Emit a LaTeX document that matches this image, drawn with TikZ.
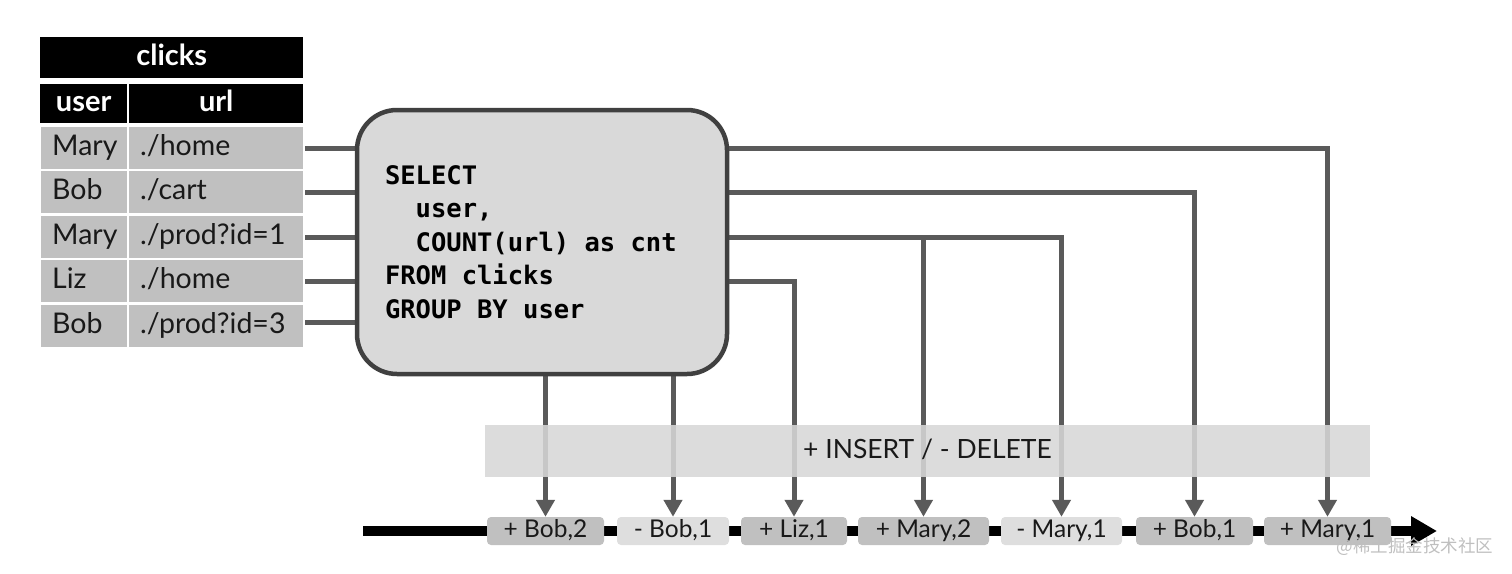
\documentclass[tikz,border=0pt]{standalone}
\usepackage{fontspec}
\setmainfont{Lato}
\setmonofont{DejaVu Sans Mono}
\newfontfamily\cjkfont{Noto Sans CJK SC}
\usetikzlibrary{arrows.meta}
\pgfdeclarelayer{background}
\pgfsetlayers{background,main}
\definecolor{cellgray}{HTML}{C0C0C0}
\definecolor{linegray}{HTML}{5A5A5A}
\definecolor{sqlfill}{HTML}{D9D9D9}
\definecolor{sqlborder}{HTML}{404040}
\definecolor{plusgray}{HTML}{C0C0C0}
\definecolor{minusgray}{HTML}{DEDEDE}
\definecolor{bandgray}{HTML}{D7D7D7}
\newcommand{\msp}{\phantom{x}}
\begin{document}
\begin{tikzpicture}[x=1pt,y=-1pt,
  cellbase/.style={anchor=north west, inner ysep=0pt, inner xsep=11pt, align=left,
    text height=21pt, text depth=6pt, font=\fontsize{28.5}{32}\selectfont},
  ucell/.style={cellbase, fill=cellgray, text width=64pt, minimum height=42pt, text=black!90},
  rcell/.style={cellbase, fill=cellgray, text width=152pt, minimum height=42pt, text=black!90},
  headcell/.style={anchor=north west, fill=black, text=white, inner sep=0pt,
    text height=21pt, text depth=6pt, font=\fontsize{29}{32}\selectfont\bfseries},
  conn/.style={draw=linegray, line width=5pt},
  arr/.style={conn, line join=miter, -{Triangle[length=17pt,width=18pt]}},
  evbox/.style={rounded corners=4pt, minimum height=28pt, inner sep=0pt,
    text height=18pt, text depth=5pt, font=\fontsize{24.5}{28}\selectfont, text=black!90},
  plusbox/.style={evbox, fill=plusgray},
  minusbox/.style={evbox, fill=minusgray}
]
\useasboundingbox (0,0) rectangle (1512,573);

% table
\node[headcell, minimum width=263pt, minimum height=41pt] (title) at (40,37) {clicks};
\node[headcell, minimum width=87pt, minimum height=39pt] (huser) at (40,84) {user};
\node[headcell, minimum width=174pt, minimum height=39pt] (hurl) at (129,84) {url};

\node[ucell] (u1) at (41,127) {Mary};
\node[rcell] (r1) at (129,127) {./home};
\node[ucell] (u2) at (41,171) {Bob};
\node[rcell] (r2) at (129,171) {./cart};
\node[ucell] (u3) at (41,216) {Mary};
\node[rcell] (r3) at (129,216) {./prod?id=1};
\node[ucell] (u4) at (41,260) {Liz};
\node[rcell] (r4) at (129,260) {./home};
\node[ucell] (u5) at (41,305) {Bob};
\node[rcell] (r5) at (129,305) {./prod?id=3};

% SQL box
\node[draw=sqlborder, line width=4.5pt, fill=sqlfill, rounded corners=40pt,
  minimum width=370pt, minimum height=264pt, inner xsep=28pt, inner ysep=0pt,
  text width=314pt, align=left,
  font=\fontsize{25.5}{33.5}\selectfont\ttfamily\bfseries] (sql) at (542,242)
{SELECT\\
\msp\msp user,\\
\msp\msp COUNT(url)\msp as\msp cnt\\
FROM\msp clicks\\
GROUP\msp BY\msp user};

% event boxes
\node[plusbox, minimum width=117pt] (pbob2) at (545.5,531) {+ Bob,2};
\node[minusbox, minimum width=112pt] (mbob1) at (673,531) {- Bob,1};
\node[plusbox, minimum width=106pt] (pliz1) at (794,531) {+ Liz,1};
\node[plusbox, minimum width=131pt] (pmary2) at (923.5,531) {+ Mary,2};
\node[minusbox, minimum width=121pt] (mmary1) at (1061.5,531) {- Mary,1};
\node[plusbox, minimum width=117pt] (pbob1b) at (1194.5,531) {+ Bob,1};
\node[plusbox, minimum width=127pt] (pmary1) at (1327.5,531) {+ Mary,1};

\coordinate (tl0) at (363,531);
\coordinate (tl1) at (1437,531);

\begin{pgfonlayer}{background}
  % inputs
  \draw[conn] ([xshift=2pt]r1.east) -- (r1.east -| sql.west);
  \draw[conn] ([xshift=2pt]r2.east) -- (r2.east -| sql.west);
  \draw[conn] ([xshift=2pt]r3.east) -- (r3.east -| sql.west);
  \draw[conn] ([xshift=2pt]r4.east) -- (r4.east -| sql.west);
  \draw[conn] ([xshift=2pt,yshift=4pt]r5.east) -- ([yshift=4pt]r5.east -| sql.west);
  % outputs
  \draw[arr] (r1.east -| sql.east) -| (pmary1.north);
  \draw[arr] (r2.east -| sql.east) -| (pbob1b.north);
  \draw[arr] (r3.east -| sql.east) -| (mmary1.north);
  \draw[arr] (r3.east -| pmary2.north) -- (pmary2.north);
  \draw[arr] (r4.east -| sql.east) -| (pliz1.north);
  \draw[arr] (sql.south -| pbob2.north) -- (pbob2.north);
  \draw[arr] (sql.south -| mbob1.north) -- (mbob1.north);
  % timeline
  \draw[line width=10pt, -{Triangle[length=26pt,width=28pt]}] (tl0) -- (tl1);
\end{pgfonlayer}

% band
\node[fill=bandgray, fill opacity=0.88, text opacity=1, minimum width=885pt, minimum height=52pt,
  inner sep=0pt, text height=19pt, text depth=5pt,
  font=\fontsize{26.5}{30}\selectfont, text=black!90] (band) at (927.5,451) {+ INSERT / - DELETE};

% watermark
\node[text=black!25, font=\fontsize{17.5}{20}\cjkfont, inner sep=0pt] (wm) at (1415,547) {@稀土掘金技术社区};
\end{tikzpicture}
\end{document}
